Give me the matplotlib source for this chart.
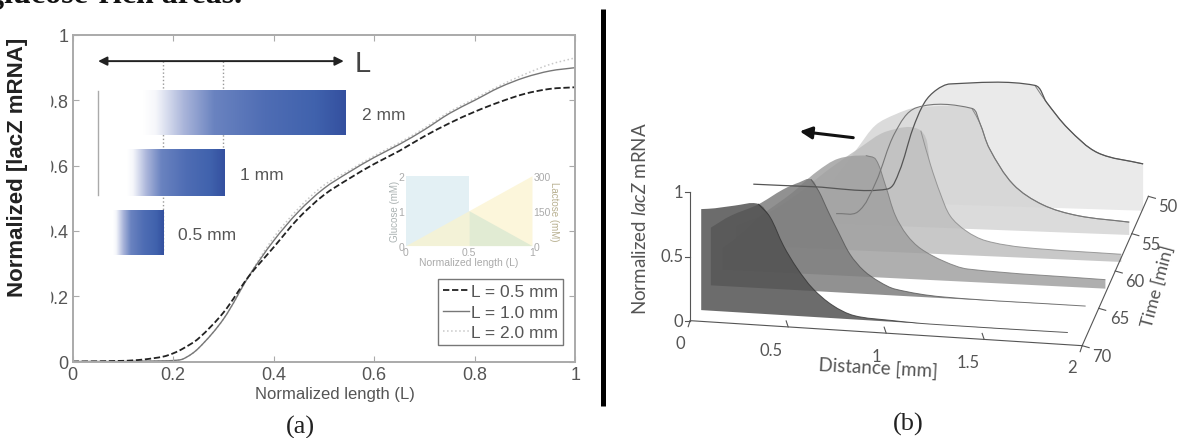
import numpy as np
import matplotlib
matplotlib.use("Agg")
import matplotlib.pyplot as plt
from matplotlib.patches import Rectangle, FancyArrowPatch, PathPatch
from matplotlib.path import Path

plt.rcParams['font.family'] = ['Liberation Sans', 'DejaVu Sans']
plt.rcParams['mathtext.fontset'] = 'custom'
plt.rcParams['mathtext.it'] = 'Lato:italic'
plt.rcParams['mathtext.rm'] = 'Lato'

# ---------- panel (a) data ----------
length = [0, .1, .14, .18, .2, .22, .25, .3, .35, .4, .45, .5, .55, .6, .65, .7, .75, .8, .85, .9, .95, 1]
mrna_05 = [0, .002, .006, .015, .025, .04, .07, .15, .26, .35, .44, .51, .56, .605, .645, .69, .73, .765, .795, .82, .835, .84]
mrna_10 = [0, 0, .001, .002, .003, .008, .04, .13, .26, .37, .46, .53, .58, .625, .665, .71, .76, .80, .84, .87, .89, .90]
mrna_20 = [0, 0, .001, .002, .003, .008, .04, .13, .26, .38, .47, .54, .585, .63, .67, .715, .765, .805, .845, .88, .91, .93]
legend_labels = ['L = 0.5 mm', 'L = 1.0 mm', 'L = 2.0 mm']
x_ticks = [0, .2, .4, .6, .8, 1]
tick_labels = ['0', '0.2', '0.4', '0.6', '0.8', '1']

bar_names = ['2 mm', '1 mm', '0.5 mm']
bar_x0 = [.14, .108, .08]
bar_x1 = [.542, .302, .18]
bar_y0 = [.695, .508, .327]
bar_y1 = [.832, .65, .464]
bar_label_x = [.575, .333, .209]
bar_label_y = [.755, .574, .389]

inset_x = [0, .5, 1]
glucose = [2, 1, 0]
lactose = [0, 150, 300]

# ---------- panel (b) data ----------
times = [68.4, 64.8, 61.2, 57.6, 54.0, 50.4]
floors = [0, 0, -.07, -.07, -.07, -.09]
fill_grays = ['#505050', '#7c7c7c', '#a0a0a0', '#bebebe', '#d4d4d4', '#e6e6e6']
edge_grays = ['#333333', '#555555', '#777777', '#888888', '#777777', '#666666']
dist = [
    [.03, .1, .2, .32, .38, .45, .52, .6, .7, .81, 1.0, 1.2, 1.9],
    [.02, .12, .26, .39, .47, .53, .57, .62, .67, .73, .8, .88, .96, 1.2, 1.93],
    [.02, .12, .22, .37, .5, .61, .75, .8, .85, .9, .96, 1.03, 1.15, 1.27, 1.97],
    [.03, .2, .35, .5, .65, .8, .97, 1.02, 1.07, 1.12, 1.2, 1.3, 1.5, 1.99],
    [.4, .48, .59, .68, .78, .89, 1.17, 1.21, 1.26, 1.38, 1.53, 1.71, 1.97],
    [.68, .74, .81, .87, .93, 1.0, 1.43, 1.49, 1.6, 1.75, 1.98],
]
vals = [
    [.787, .80, .83, .855, .76, .54, .37, .22, .10, .03, .01, 0, 0],
    [.45, .55, .65, .78, .84, .87, .78, .62, .47, .30, .18, .10, .05, .01, 0],
    [.10, .22, .37, .55, .73, .84, .875, .85, .65, .42, .27, .17, .08, .03, 0],
    [.08, .20, .36, .55, .72, .87, .885, .62, .40, .23, .12, .05, .01, -.01],
    [.15, .30, .53, .71, .80, .86, .87, .76, .56, .29, .14, .065, .03],
    [.015, .15, .49, .70, .80, .85, .86, .73, .53, .35, .275],
]
back_line_dist = [0, .3, .68, .74, .81, .87, .93, 1.0, 1.43, 1.49, 1.6, 1.75, 1.98]
back_line_vals = [.02, .015, .015, .15, .49, .70, .80, .85, .86, .73, .53, .35, .275]
second_line_dist = [.48, .59, .68, .78, .89, 1.17, 1.21, 1.26, 1.38, 1.53, 1.71, 1.97]
second_line_vals = [.01, .03, .26, .66, .86, .87, .76, .56, .29, .14, .065, .03]

fig = plt.figure(figsize=(11.77, 4.39), dpi=100)
W, H = 1177, 439
GRAY = '#555555'


def smooth(xs, ys):
    """Bezier path through the given points; handles scale with each segment length."""
    p = np.column_stack([xs, ys]).astype(float)
    verts = [p[0]]
    codes = [Path.MOVETO]

    def tangent(i):
        a, b = p[max(i-1, 0)], p[min(i+1, len(p)-1)]
        d = b - a
        n = np.hypot(*d)
        return d / n if n else d

    for i in range(len(p) - 1):
        seg = np.hypot(*(p[i+1] - p[i])) / 3
        verts += [p[i] + tangent(i)*seg, p[i+1] - tangent(i+1)*seg, p[i+1]]
        codes += [Path.CURVE4] * 3
    return verts, codes


# ---------- panel (a) ----------
ax = fig.add_axes([72.7/W, 1-362.5/H, 502.5/W, 326.5/H])
series = [(mrna_20, '#c8c8c8', ':', 1.1, 2), (mrna_10, '#777777', '-', 1.0, 1), (mrna_05, '#222222', (0, (3.5, 1.5)), 1.3, 0)]
handles = {}
for yy, col, ls, lw, idx in series:
    v, c = smooth(length, yy)
    ax.add_patch(PathPatch(Path(v, c), fc='none', ec=col, ls=ls, lw=lw))
    handles[idx], = ax.plot([], [], color=col, ls=ls, lw=lw)
ax.set_xlim(0, 1); ax.set_ylim(0, 1)
ax.set_xticks(x_ticks); ax.set_xticklabels(tick_labels)
ax.set_yticks(x_ticks); ax.set_yticklabels(tick_labels)
ax.tick_params(direction='in', top=True, right=True, length=4, color='#aaaaaa', labelcolor=GRAY, labelsize=13, pad=3)
for s in ax.spines.values():
    s.set_color('#aaaaaa'); s.set_linewidth(1.4)
ax.set_xlabel('Normalized length (L)', color=GRAY, fontsize=12)
ax.xaxis.set_label_coords(.522, -.075)
fig.text(18/W, 1-167/H, 'Normalized [lacZ mRNA]', rotation=90, ha='center', va='center', fontsize=16, color='#222222', fontweight='bold')

# bars with gradient
grad = np.linspace(0, 1, 256).reshape(1, -1)
cmap = matplotlib.colors.LinearSegmentedColormap.from_list(
    'b', [(0, '#ffffff'), (.06, '#f6f7fb'), (.2, '#aab5da'), (.35, '#6a83c0'), (.6, '#4f6db4'), (.85, '#4062ad'), (1, '#34509f')])
for x0, x1, y0, y1, name, lx, ly in zip(bar_x0, bar_x1, bar_y0, bar_y1, bar_names, bar_label_x, bar_label_y):
    ax.imshow(grad, extent=[x0, x1, y0, y1], cmap=cmap, aspect='auto', zorder=2.5)
    ax.text(lx, ly, name, color=GRAY, fontsize=12.5, va='center', zorder=4)
ax.set_xlim(0, 1); ax.set_ylim(0, 1)
for xv, y0 in zip([.18, .30], [.34, .51]):
    ax.plot([xv, xv], [y0, .92], color='#999999', ls=':', lw=1, zorder=2)
ax.plot([.05, .05], [.51, .83], color='#aaaaaa', lw=1, zorder=2)
ax.add_patch(FancyArrowPatch((.045, .92), (.545, .92), arrowstyle='<|-|>', mutation_scale=13, color='#222222', lw=1.4, zorder=4))
ax.text(.562, .914, 'L', fontsize=21, family=['Liberation Sans Narrow', 'Liberation Sans'], color='#444444', va='center', ha='left', zorder=4)

leg = ax.legend([handles[0], handles[1], handles[2]], legend_labels, loc='lower left',
                bbox_to_anchor=(.727, .05), fontsize=12.5, frameon=True, fancybox=False,
                edgecolor='#777777', framealpha=1, handlelength=1.5, handletextpad=.1,
                labelspacing=.3, borderpad=.3, borderaxespad=0)
for t in leg.get_texts():
    t.set_color(GRAY)
leg.get_frame().set_linewidth(1)

# mask hiding the left of the y tick labels
fig.add_artist(Rectangle((32/W, 1-345/H), 18/W, 296/H, transform=fig.transFigure, color='white', zorder=5))

# small inset
ins = ax.inset_axes([.663, .355, .251, .214])
ins.patch.set_alpha(0)
ins.fill_between(inset_x[:2], [2, 2], [0, 0], color='#d8ebf0', alpha=.7, lw=0)
ins.fill_between(inset_x, [l/150 for l in lactose], 0, color='#fbf3cc', alpha=.7, lw=0)
ins.fill_between(inset_x[1:], glucose[1:], 0, color='#cfe4cf', alpha=.6, lw=0)
ins.set_xlim(0, 1); ins.set_ylim(0, 2)
ins.set_xticks(inset_x); ins.set_xticklabels(['0', '0.5', '1'])
ins.set_yticks([0, 1, 2]); ins.set_yticklabels(['0', '1', '2'])
ins.tick_params(length=0, labelsize=7.5, labelcolor='#aaaaaa', pad=1)
for s in ins.spines.values():
    s.set_visible(False)
ins.set_xlabel('Normalized length (L)', fontsize=7.5, color='#aaaaaa', labelpad=0)
ins.set_ylabel('Glucose (mM)', fontsize=7, color='#aab2b2', labelpad=-1)
ins2 = ins.twinx()
ins2.patch.set_alpha(0)
ins2.set_ylim(0, 300); ins2.set_yticks(lactose); ins2.set_yticklabels(['0', '150', '300'])
ins2.tick_params(length=0, labelsize=7.5, labelcolor='#aaaaaa', pad=1)
for s in ins2.spines.values():
    s.set_visible(False)
ins2.set_ylabel('Lactose (mM)', fontsize=7, color='#b8b090', rotation=270, labelpad=6)

# ---------- whole-figure pixel axes ----------
ov = fig.add_axes([0, 0, 1, 1], zorder=6)
ov.patch.set_alpha(0)
ov.set_xlim(0, W); ov.set_ylim(H, 0); ov.axis('off')

ov.text(-12, 3, 'glucose-rich areas.', family=['Liberation Serif'], fontsize=23, fontweight='bold', color='#111111', ha='left', va='baseline')
ov.plot([603, 603], [10, 407], color='black', lw=3.6, solid_capstyle='butt')
ov.text(300, 427, '(a)', family=['Liberation Serif'], fontsize=19, ha='center', va='center', color='#222222')
ov.text(908, 424, '(b)', family=['Liberation Serif'], fontsize=19, ha='center', va='center', color='#222222')


# ---------- panel (b): oblique projection ----------
def proj(d, t, v):
    d = np.asarray(d, float); v = np.asarray(v, float)
    f = (70 - t) / 20
    lx, ly = 245 + 175*f, 785 - 410*f
    rx, ry = 1310 + 180*f, 860 - 448*f
    zx = lx + d/2*(rx-lx)
    zy = ly + d/2*(ry-ly) - v*385
    return 600 + zx/2.717, 60 + zy/3


for t, fl, dd, vv, fc, ec in list(zip(times, floors, dist, vals, fill_grays, edge_grays))[::-1]:
    xs, ys = proj(dd, t, vv)
    v, c = smooth(xs, ys)
    bx, by = proj([dd[-1], dd[0]], t, [fl, fl])
    v = v + [np.array([bx[0], by[0]]), np.array([bx[1], by[1]]), np.array([xs[0], ys[0]])]
    c = c + [Path.LINETO, Path.LINETO, Path.CLOSEPOLY]
    ov.add_patch(PathPatch(Path(v, c), fc=fc, ec='none', alpha=.84))
    pk = int(np.argmax(vv))
    v2, c2 = smooth(xs[pk:], ys[pk:])
    ov.add_patch(PathPatch(Path(v2, c2), fc='none', ec=ec, lw=.7, alpha=.8))
v, c = smooth(*proj(back_line_dist, times[5], back_line_vals))
ov.add_patch(PathPatch(Path(v, c), fc='none', ec='#555555', lw=.9))
v, c = smooth(*proj(second_line_dist, times[4], second_line_vals))
ov.add_patch(PathPatch(Path(v, c), fc='none', ec='#777777', lw=.8))

AX = '#555555'
FONT = ['Lato', 'DejaVu Sans']
ov.plot(*proj([0, 2], 70, [0, 0]), color=AX, lw=.8)
xs, ys = zip(proj(2, 70, 0), proj(2, 50, 0))
ov.plot(xs, ys, color=AX, lw=.8)
xs, ys = zip(proj(0, 70, 0), proj(0, 70, 1))
ov.plot(xs, ys, color=AX, lw=.8)

for v, lab in zip([0, .5, 1], ['0', '0.5', '1']):
    x, y = proj(0, 70, v)
    ov.plot([x-5, x], [y, y], color=AX, lw=.8)
    ov.text(x-7, y, lab, family=FONT, fontsize=12, color=GRAY, ha='right', va='center')
for d, lab, dx, dy in zip([0, .5, 1, 1.5, 2], ['0', '0.5', '1', '1.5', '2'], [-10, -17, -10, -16, -10], [22, 23, 23, 23, 21]):
    x, y = proj(d, 70, 0)
    ov.plot([x, x-2], [y, y+6] if d in (0, 2) else [y, y-6], color=AX, lw=.8)
    ov.text(x+dx, y+dy, lab, family=FONT, fontsize=12, color=GRAY, ha='center', va='center')
for t, lab, dx in zip([50, 55, 60, 65, 70], ['50', '55', '60', '65', '70'], [10, 9, 10, 11, 10]):
    x, y = proj(2, t, 0)
    ov.plot([x, x+7], [y, y+2], color=AX, lw=.8)
    ov.text(x+dx, y+10, lab, family=FONT, fontsize=12, color=GRAY, ha='left', va='center')

ov.text(878, 368, 'Distance [mm]', family=FONT, fontsize=13.5, color=GRAY, ha='center', va='center', rotation=-3)
ov.text(1158, 287, 'Time [min]', family=FONT, fontsize=13, color=GRAY, ha='center', va='center', rotation=75, rotation_mode='anchor')
ov.text(640, 219, r'Normalized $\mathit{lacZ}$ mRNA', family=FONT, fontsize=13.5, color=GRAY, ha='center', va='center', rotation=90)
ov.add_patch(FancyArrowPatch((856, 139), (797, 132), arrowstyle='-|>', mutation_scale=18, color='#111111', lw=2.2))

fig.savefig('out.png', dpi=100)
